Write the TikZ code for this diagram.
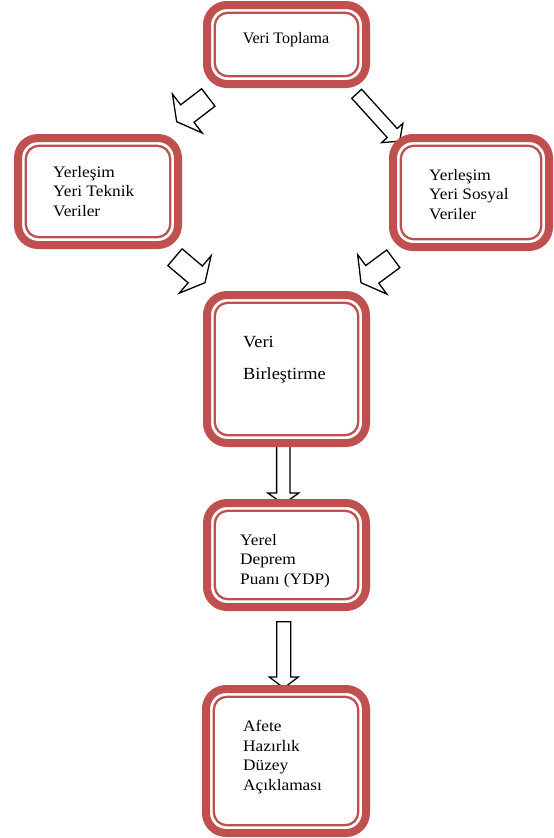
\documentclass[tikz,border=0pt]{standalone}
\usepackage{fontspec}
\setmainfont{Liberation Serif}
\newfontfamily\widefont[FakeStretch=1.08]{Liberation Serif}
\usetikzlibrary{calc}
\definecolor{boxred}{HTML}{C0504D}
\tikzset{outerbox/.style = {shape=rectangle, draw=boxred, line width=8pt, rounded corners=20pt, fill=white, outer sep=0pt, inner sep=0pt}}
\tikzset{innerline/.style = {draw=boxred, line width=2.3pt, rounded corners=13pt}}
\tikzset{boxtext/.style = {anchor=base west, align=left, inner sep=0pt, font=\widefont\fontsize{16}{19.5}\selectfont}}
\tikzset{arrowbox/.style = {draw=black, line width=1.3pt, fill=white, line join=miter}}
% block arrow: from, to, shaft half width, head half width, head length
\newcommand{\blockarrow}[5]{%
  \draw[arrowbox] ($(#1)!#3!90:(#2)$) -- ($(#2)!#5!(#1)!#3!90:(#2)$)
    -- ($(#2)!#5!(#1)!#4!90:(#2)$) -- (#2) -- ($(#2)!#5!(#1)!#4!-90:(#2)$)
    -- ($(#2)!#5!(#1)!#3!-90:(#2)$) -- ($(#1)!#3!-90:(#2)$) -- cycle;}

\begin{document}
\begin{tikzpicture}[x=1pt, y=-1pt]
\useasboundingbox (0,0) rectangle (554,838);
% arrow ends
\coordinate (a1s) at (208.3,97.5);
\coordinate (a1t) at (176.7,121.7);
\coordinate (a2s) at (356.7,93.8);
\coordinate (a2t) at (399.6,141.2);
\coordinate (a3s) at (175,257.2);
\coordinate (a3t) at (205,282.7);
\coordinate (a4s) at (393.3,258.8);
\coordinate (a4t) at (361,282.7);
\coordinate (a5s) at (283.3,440);
\coordinate (a5t) at (283.3,504);
\coordinate (a6s) at (283.8,621.7);
\coordinate (a6t) at (283.8,688);

% arrows
\blockarrow{a1s}{a1t}{11pt}{24.5pt}{13.4pt}
\blockarrow{a2s}{a2t}{6.7pt}{14.3pt}{11pt}
\blockarrow{a3s}{a3t}{11pt}{24.5pt}{12.8pt}
\blockarrow{a4s}{a4t}{11pt}{24.5pt}{14pt}
\blockarrow{a5s}{a5t}{6.7pt}{15.5pt}{11pt}
\blockarrow{a6s}{a6t}{7pt}{14.5pt}{11pt}

% boxes
\node[outerbox, minimum width=159pt, minimum height=79pt] (b1) at (286.5,44.5) {};
\node[outerbox, minimum width=160pt, minimum height=107pt] (b2) at (98,191.5) {};
\node[outerbox, minimum width=156pt, minimum height=109pt] (b3) at (471,192.5) {};
\node[outerbox, minimum width=159pt, minimum height=148pt] (b4) at (286.5,369) {};
\node[outerbox, minimum width=159pt, minimum height=104pt] (b5) at (286.5,555) {};
\node[outerbox, minimum width=160pt, minimum height=144pt] (b6) at (286,761) {};
\foreach \b in {b1,b2,b3,b4,b5,b6}
  \draw[innerline] ([shift={(7.8pt,-7.8pt)}]\b.north west) rectangle ([shift={(-7.8pt,7.8pt)}]\b.south east);

% texts
\node[boxtext, anchor=base, font=\fontsize{16}{19.5}\selectfont] (t1) at (286,43) {Veri Toplama};
\node[boxtext] (t2) at (53,216) {Yerleşim\\Yeri Teknik\\Veriler};
\node[boxtext] (t3) at (429,219) {Yerleşim\\Yeri Sosyal\\Veriler};
\node[boxtext, font=\widefont\fontsize{17}{19.5}\selectfont] (t4) at (243,379.5) {Veri\\[13pt]Birleştirme};
\node[boxtext] (t5) at (240,584) {Yerel\\Deprem\\Puanı (YDP)};
\node[boxtext] (t6) at (243,790) {Afete\\Hazırlık\\Düzey\\Açıklaması};
\end{tikzpicture}
\end{document}
